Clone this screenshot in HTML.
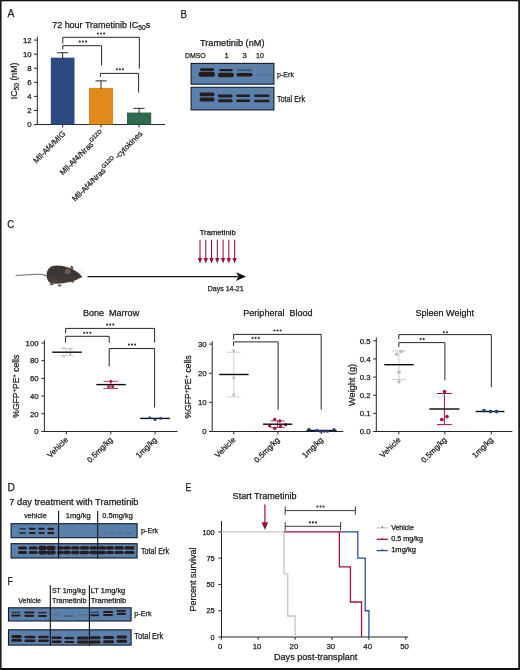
<!DOCTYPE html>
<html><head><meta charset="utf-8"><style>
html,body{margin:0;padding:0;background:#fff;}
svg{display:block;will-change:transform;}
text{font-family:"Liberation Sans", sans-serif;stroke:#1a1a1a;stroke-width:0.25px;}
</style></head><body>
<svg width="520" height="670" viewBox="0 0 520 670">
<defs><filter id="bl" x="-20%" y="-50%" width="140%" height="200%"><feGaussianBlur stdDeviation="0.55"/></filter></defs>
<rect x="0" y="0" width="520" height="670" fill="#fff"/>
<text x="7.6" y="17.4" font-size="11.4" textLength="6.9" lengthAdjust="spacingAndGlyphs" fill="#1a1a1a" >A</text>
<text x="180.6" y="17.6" font-size="11.4" textLength="6.4" lengthAdjust="spacingAndGlyphs" fill="#1a1a1a" >B</text>
<text x="7.2" y="228.3" font-size="11.4" textLength="7.0" lengthAdjust="spacingAndGlyphs" fill="#1a1a1a" >C</text>
<text x="7.4" y="490.8" font-size="11.4" textLength="7.4" lengthAdjust="spacingAndGlyphs" fill="#1a1a1a" >D</text>
<text x="185.6" y="490.9" font-size="11.4" textLength="5.7" lengthAdjust="spacingAndGlyphs" fill="#1a1a1a" >E</text>
<text x="7.4" y="585.1" font-size="11.4" textLength="5.4" lengthAdjust="spacingAndGlyphs" fill="#1a1a1a" >F</text>
<text x="52.2" y="27.8" font-size="9.2" fill="#1a1a1a" textLength="98" lengthAdjust="spacingAndGlyphs">72 hour Trametinib IC<tspan font-size="6.8" dy="1.7">50</tspan><tspan dy="-1.7">s</tspan></text>
<line x1="37.3" y1="36.7" x2="37.3" y2="125" stroke="#262626" stroke-width="1.0" />
<line x1="36.8" y1="124.5" x2="165" y2="124.5" stroke="#262626" stroke-width="1.0" />
<line x1="34" y1="124.5" x2="37.3" y2="124.5" stroke="#262626" stroke-width="1.0" />
<text x="31.6" y="127.2" font-size="7.8" text-anchor="end" fill="#1a1a1a" >0</text>
<line x1="34" y1="110.43" x2="37.3" y2="110.43" stroke="#262626" stroke-width="1.0" />
<text x="31.6" y="113.13" font-size="7.8" text-anchor="end" fill="#1a1a1a" >2</text>
<line x1="34" y1="96.36" x2="37.3" y2="96.36" stroke="#262626" stroke-width="1.0" />
<text x="31.6" y="99.06" font-size="7.8" text-anchor="end" fill="#1a1a1a" >4</text>
<line x1="34" y1="82.29" x2="37.3" y2="82.29" stroke="#262626" stroke-width="1.0" />
<text x="31.6" y="84.99" font-size="7.8" text-anchor="end" fill="#1a1a1a" >6</text>
<line x1="34" y1="68.22" x2="37.3" y2="68.22" stroke="#262626" stroke-width="1.0" />
<text x="31.6" y="70.92" font-size="7.8" text-anchor="end" fill="#1a1a1a" >8</text>
<line x1="34" y1="54.15" x2="37.3" y2="54.15" stroke="#262626" stroke-width="1.0" />
<text x="31.6" y="56.85" font-size="7.8" text-anchor="end" fill="#1a1a1a" >10</text>
<line x1="34" y1="40.08" x2="37.3" y2="40.08" stroke="#262626" stroke-width="1.0" />
<text x="31.6" y="42.78" font-size="7.8" text-anchor="end" fill="#1a1a1a" >12</text>
<text transform="translate(16.8 80.9) rotate(-90)" font-size="9.2" text-anchor="middle" fill="#1a1a1a" textLength="36.5" lengthAdjust="spacingAndGlyphs">IC<tspan font-size="7" dy="1.9">50</tspan><tspan dy="-1.9"> (nM)</tspan></text>
<rect x="50.8" y="57.67" width="23.7" height="66.83" fill="#2c4a7f" stroke="none" stroke-width="0" />
<line x1="62.65" y1="52.74" x2="62.65" y2="58.67" stroke="#262626" stroke-width="1.0" />
<line x1="57.15" y1="52.74" x2="68.15" y2="52.74" stroke="#262626" stroke-width="1.0" />
<rect x="89" y="87.92" width="24" height="36.58" fill="#e08a1c" stroke="none" stroke-width="0" />
<line x1="101" y1="80.88" x2="101" y2="88.92" stroke="#262626" stroke-width="1.0" />
<line x1="95.5" y1="80.88" x2="106.5" y2="80.88" stroke="#262626" stroke-width="1.0" />
<rect x="127" y="112.54" width="24.2" height="11.96" fill="#2e6b4e" stroke="none" stroke-width="0" />
<line x1="139.1" y1="108.32" x2="139.1" y2="113.54" stroke="#262626" stroke-width="1.0" />
<line x1="133.6" y1="108.32" x2="144.6" y2="108.32" stroke="#262626" stroke-width="1.0" />
<line x1="62.6" y1="124.5" x2="62.6" y2="127.5" stroke="#262626" stroke-width="1.0" />
<line x1="101" y1="124.5" x2="101" y2="127.5" stroke="#262626" stroke-width="1.0" />
<line x1="139" y1="124.5" x2="139" y2="127.5" stroke="#262626" stroke-width="1.0" />
<polyline points="62.8,43.5 62.8,37.3 139.3,37.3 139.3,68.7" stroke="#262626" stroke-width="1.0" fill="none" />
<polyline points="62.8,49.5 62.8,45.7 101.6,45.7 101.6,65.5" stroke="#262626" stroke-width="1.0" fill="none" />
<polyline points="100.4,76.8 100.4,73.4 138.6,73.4 138.6,92.5" stroke="#262626" stroke-width="1.0" fill="none" />
<circle cx="97.9" cy="33.5" r="1.05" fill="#2a2a2a" />
<circle cx="101" cy="33.5" r="1.05" fill="#2a2a2a" />
<circle cx="104.1" cy="33.5" r="1.05" fill="#2a2a2a" />
<circle cx="79.8" cy="41.6" r="1.05" fill="#2a2a2a" />
<circle cx="82.9" cy="41.6" r="1.05" fill="#2a2a2a" />
<circle cx="86" cy="41.6" r="1.05" fill="#2a2a2a" />
<circle cx="116.8" cy="69.3" r="1.05" fill="#2a2a2a" />
<circle cx="119.9" cy="69.3" r="1.05" fill="#2a2a2a" />
<circle cx="123" cy="69.3" r="1.05" fill="#2a2a2a" />
<text transform="translate(66 134.2) rotate(-45)" font-size="7.9" text-anchor="end" fill="#1a1a1a">Mll-Af4/MIG</text>
<text transform="translate(104.5 134.2) rotate(-45)" font-size="7.9" text-anchor="end" fill="#1a1a1a">Mll-Af4/Nras<tspan font-size="5.8" dy="-3.4">G12D</tspan></text>
<text transform="translate(143 134.2) rotate(-45)" font-size="7.9" text-anchor="end" fill="#1a1a1a">Mll-Af4/Nras<tspan font-size="5.8" dy="-3.4">G12D</tspan><tspan dy="3.4" dx="1.6">-cytokines</tspan></text>
<text x="200" y="45.8" font-size="9" textLength="64.5" lengthAdjust="spacingAndGlyphs" fill="#1a1a1a" >Trametinib (nM)</text>
<text x="185" y="58" font-size="7.6" textLength="20.7" lengthAdjust="spacingAndGlyphs" fill="#1a1a1a" >DMSO</text>
<text x="224.6" y="58" font-size="7.6" fill="#1a1a1a" >1</text>
<text x="242.6" y="58" font-size="7.6" fill="#1a1a1a" >3</text>
<text x="256" y="58" font-size="7.6" textLength="7.8" lengthAdjust="spacingAndGlyphs" fill="#1a1a1a" >10</text>
<rect x="191.1" y="63.4" width="82.8" height="20.8" fill="#5a80ac" stroke="#151a26" stroke-width="1.1" />
<rect x="200" y="68.3" width="14.1" height="2.6" rx="1.3" fill="#261c1e" opacity="1.0" filter="url(#bl)"/>
<rect x="198.5" y="71.8" width="16.5" height="5" rx="2.5" fill="#261c1e" opacity="1.0" filter="url(#bl)"/>
<rect x="219.2" y="69.05" width="13.5" height="2.3" rx="1.15" fill="#261c1e" opacity="1.0" filter="url(#bl)"/>
<rect x="217.9" y="72.65" width="16.1" height="4.5" rx="2.25" fill="#261c1e" opacity="1.0" filter="url(#bl)"/>
<rect x="237.2" y="69.3" width="14.9" height="1.6" rx="0.8" fill="#261c1e" opacity="0.45" filter="url(#bl)"/>
<rect x="236.4" y="73.1" width="16.3" height="3.4" rx="1.7" fill="#261c1e" opacity="1.0" filter="url(#bl)"/>
<rect x="257" y="73.2" width="14" height="3" rx="1.5" fill="#261c1e" opacity="0.09" filter="url(#bl)"/>
<rect x="191.1" y="87.3" width="82.8" height="22.6" fill="#5a80ac" stroke="#151a26" stroke-width="1.1" />
<rect x="199.5" y="92.5" width="15" height="3.8" rx="1.9" fill="#261c1e" opacity="1.0" filter="url(#bl)"/>
<rect x="199.5" y="97.6" width="15" height="3.8" rx="1.9" fill="#261c1e" opacity="1.0" filter="url(#bl)"/>
<rect x="217.9" y="94.55" width="14.8" height="2.9" rx="1.45" fill="#261c1e" opacity="1.0" filter="url(#bl)"/>
<rect x="217.9" y="99.25" width="14.8" height="2.9" rx="1.45" fill="#261c1e" opacity="1.0" filter="url(#bl)"/>
<rect x="236.1" y="94.5" width="14.1" height="2.6" rx="1.3" fill="#261c1e" opacity="1.0" filter="url(#bl)"/>
<rect x="236.1" y="99.5" width="14.1" height="2.6" rx="1.3" fill="#261c1e" opacity="1.0" filter="url(#bl)"/>
<rect x="254.2" y="94.5" width="15.4" height="2.4" rx="1.2" fill="#261c1e" opacity="1.0" filter="url(#bl)"/>
<rect x="254.2" y="99.8" width="15.4" height="2.4" rx="1.2" fill="#261c1e" opacity="1.0" filter="url(#bl)"/>
<text x="277" y="76.9" font-size="7.9" textLength="17" lengthAdjust="spacingAndGlyphs" fill="#1a1a1a" >p-Erk</text>
<text x="277" y="101.5" font-size="8.4" textLength="28" lengthAdjust="spacingAndGlyphs" fill="#1a1a1a" >Total Erk</text>
<g>
<defs><linearGradient id="mg" x1="0" y1="0" x2="0" y2="1"><stop offset="0" stop-color="#3a3633"/><stop offset="0.6" stop-color="#3d3834"/><stop offset="1" stop-color="#4a3e36"/></linearGradient></defs>
<path d="M16,275.5 C24,275.1 32,274.1 40,274.3 C43,274.4 45,275.2 47.6,276.2" stroke="#776a62" stroke-width="1.1" fill="none" stroke-linecap="round"/>
<path d="M82,277 C80,273.6 76.5,271 72.5,269.3 C68.5,267.4 63,265.7 57,265.6 C51,265.5 47,269 46.7,274 C46.4,278.5 48,282 51,283.4 L56,283.8 C60,284 66,283 70,282.1 C74,281.1 78,279.2 82,277 Z" fill="url(#mg)"/>
<ellipse cx="53.5" cy="279.8" rx="5.2" ry="3.6" fill="#54473f" opacity="0.35"/>
<path d="M64.6,272.5 C64.4,269.8 66,268.4 68,268.5 C70,268.7 70.8,270.6 70.3,272.8 C69.6,274.4 66.5,274.6 64.6,272.5 Z" fill="#6e5d53"/>
<ellipse cx="71.9" cy="267.9" rx="1.5" ry="2.1" fill="#6a5a50" transform="rotate(-15 71.9 267.9)"/>
<circle cx="75.3" cy="274.2" r="0.6" fill="#1c1816"/>
<circle cx="81.6" cy="277" r="0.7" fill="#8a5a60"/>
<ellipse cx="51.7" cy="284.2" rx="2" ry="1" fill="#63564f"/>
<ellipse cx="59.7" cy="285.5" rx="2" ry="1" fill="#63564f"/>
<ellipse cx="72.6" cy="281.8" rx="1.8" ry="0.9" fill="#6b5e58"/>
<path d="M79.8,271.2 L82.6,268.6 M80.4,272.6 L83.4,270.6 M80.8,273.8 L83.6,272.6" stroke="#d0d0d0" stroke-width="0.6"/>
</g>
<line x1="87.5" y1="276.6" x2="238" y2="276.6" stroke="#111" stroke-width="1.3" />
<path d="M246,276.6 L236,272.2 L238.5,276.6 L236,281 Z" fill="#111"/>
<text x="199.7" y="235.4" font-size="7.4" textLength="36" lengthAdjust="spacingAndGlyphs" fill="#1a1a1a" >Trametinib</text>
<line x1="200" y1="239.7" x2="200" y2="259" stroke="#9e0f38" stroke-width="1.05" />
<path d="M197.8,258 L202.2,258 L200,263.4 Z" fill="#9e0f38"/>
<line x1="205.77" y1="239.7" x2="205.77" y2="259" stroke="#9e0f38" stroke-width="1.05" />
<path d="M203.57,258 L207.97,258 L205.77,263.4 Z" fill="#9e0f38"/>
<line x1="211.54" y1="239.7" x2="211.54" y2="259" stroke="#9e0f38" stroke-width="1.05" />
<path d="M209.34,258 L213.74,258 L211.54,263.4 Z" fill="#9e0f38"/>
<line x1="217.31" y1="239.7" x2="217.31" y2="259" stroke="#9e0f38" stroke-width="1.05" />
<path d="M215.11,258 L219.51,258 L217.31,263.4 Z" fill="#9e0f38"/>
<line x1="223.08" y1="239.7" x2="223.08" y2="259" stroke="#9e0f38" stroke-width="1.05" />
<path d="M220.88,258 L225.28,258 L223.08,263.4 Z" fill="#9e0f38"/>
<line x1="228.85" y1="239.7" x2="228.85" y2="259" stroke="#9e0f38" stroke-width="1.05" />
<path d="M226.65,258 L231.05,258 L228.85,263.4 Z" fill="#9e0f38"/>
<line x1="234.62" y1="239.7" x2="234.62" y2="259" stroke="#9e0f38" stroke-width="1.05" />
<path d="M232.42,258 L236.82,258 L234.62,263.4 Z" fill="#9e0f38"/>
<text x="207.7" y="290.8" font-size="7.4" textLength="36" lengthAdjust="spacingAndGlyphs" fill="#1a1a1a" >Days 14-21</text>
<text x="82.9" y="316.3" font-size="9" textLength="56.3" lengthAdjust="spacingAndGlyphs" fill="#1a1a1a" >Bone&#160;&#160;Marrow</text>
<line x1="44.4" y1="340.2" x2="44.4" y2="432" stroke="#262626" stroke-width="1.0" />
<line x1="43.9" y1="431.5" x2="177.4" y2="431.5" stroke="#262626" stroke-width="1.0" />
<line x1="41.3" y1="431.5" x2="44.4" y2="431.5" stroke="#262626" stroke-width="1.0" />
<text x="38.6" y="434.2" font-size="7.8" text-anchor="end" fill="#1a1a1a" >0</text>
<line x1="41.3" y1="413.8" x2="44.4" y2="413.8" stroke="#262626" stroke-width="1.0" />
<text x="38.6" y="416.5" font-size="7.8" text-anchor="end" fill="#1a1a1a" >20</text>
<line x1="41.3" y1="396.1" x2="44.4" y2="396.1" stroke="#262626" stroke-width="1.0" />
<text x="38.6" y="398.8" font-size="7.8" text-anchor="end" fill="#1a1a1a" >40</text>
<line x1="41.3" y1="378.4" x2="44.4" y2="378.4" stroke="#262626" stroke-width="1.0" />
<text x="38.6" y="381.1" font-size="7.8" text-anchor="end" fill="#1a1a1a" >60</text>
<line x1="41.3" y1="360.7" x2="44.4" y2="360.7" stroke="#262626" stroke-width="1.0" />
<text x="38.6" y="363.4" font-size="7.8" text-anchor="end" fill="#1a1a1a" >80</text>
<line x1="41.3" y1="343" x2="44.4" y2="343" stroke="#262626" stroke-width="1.0" />
<text x="38.6" y="345.7" font-size="7.8" text-anchor="end" fill="#1a1a1a" >100</text>
<text transform="translate(19.4 386.2) rotate(-90)" font-size="9" text-anchor="middle" textLength="63" lengthAdjust="spacingAndGlyphs" fill="#1a1a1a">%GFP<tspan font-size="6.2" dy="-3.2">+</tspan><tspan dy="3.2">PE</tspan><tspan font-size="6.2" dy="-3.2">+</tspan><tspan dy="3.2"> cells</tspan></text>
<line x1="66.3" y1="431.5" x2="66.3" y2="434.3" stroke="#262626" stroke-width="1.0" />
<text transform="translate(68.6 440.3) rotate(-45)" font-size="7.9" text-anchor="end" fill="#1a1a1a">Vehicle</text>
<line x1="110.8" y1="431.5" x2="110.8" y2="434.3" stroke="#262626" stroke-width="1.0" />
<text transform="translate(113.1 440.3) rotate(-45)" font-size="7.9" text-anchor="end" fill="#1a1a1a">0.5mg/kg</text>
<line x1="155.1" y1="431.5" x2="155.1" y2="434.3" stroke="#262626" stroke-width="1.0" />
<text transform="translate(157.4 440.3) rotate(-45)" font-size="7.9" text-anchor="end" fill="#1a1a1a">1mg/kg</text>
<polyline points="65.6,333.2 65.6,328.4 154.6,328.4 154.6,342.7" stroke="#262626" stroke-width="1.0" fill="none" />
<polyline points="65.6,342.6 65.6,336.3 109.2,336.3 109.2,342.7" stroke="#262626" stroke-width="1.0" fill="none" />
<polyline points="109.2,366.3 109.2,348.5 154.6,348.5 154.6,407.5" stroke="#262626" stroke-width="1.0" fill="none" />
<circle cx="107.1" cy="324.6" r="1.05" fill="#2a2a2a" />
<circle cx="110.2" cy="324.6" r="1.05" fill="#2a2a2a" />
<circle cx="113.3" cy="324.6" r="1.05" fill="#2a2a2a" />
<circle cx="84.2" cy="332.7" r="1.05" fill="#2a2a2a" />
<circle cx="87.3" cy="332.7" r="1.05" fill="#2a2a2a" />
<circle cx="90.4" cy="332.7" r="1.05" fill="#2a2a2a" />
<circle cx="128.9" cy="344.6" r="1.05" fill="#2a2a2a" />
<circle cx="132" cy="344.6" r="1.05" fill="#2a2a2a" />
<circle cx="135.1" cy="344.6" r="1.05" fill="#2a2a2a" />
<line x1="59.5" y1="348.4" x2="73.8" y2="348.4" stroke="#c9c9cc" stroke-width="0.8" />
<line x1="59.5" y1="355.7" x2="73.8" y2="355.7" stroke="#c9c9cc" stroke-width="0.8" />
<line x1="66.6" y1="348.4" x2="66.6" y2="355.7" stroke="#c9c9cc" stroke-width="0.8" />
<circle cx="63.8" cy="348.2" r="1.2" fill="#bdbdc2" />
<circle cx="63.8" cy="356.2" r="1.2" fill="#bdbdc2" />
<circle cx="70.3" cy="349.2" r="1.2" fill="#bdbdc2" />
<circle cx="70.3" cy="354.5" r="1.2" fill="#bdbdc2" />
<line x1="52.2" y1="352.2" x2="81.8" y2="352.2" stroke="#0a0a0a" stroke-width="1.4" />
<line x1="103.5" y1="381.3" x2="118" y2="381.3" stroke="#a9133a" stroke-width="0.8" />
<line x1="103.5" y1="388.5" x2="118" y2="388.5" stroke="#a9133a" stroke-width="0.8" />
<line x1="110.8" y1="381.3" x2="110.8" y2="388.5" stroke="#a9133a" stroke-width="0.8" />
<circle cx="110.8" cy="381.4" r="1.4" fill="#a9133a" />
<circle cx="108.5" cy="386.7" r="1.4" fill="#a9133a" />
<circle cx="112.7" cy="386.7" r="1.4" fill="#a9133a" />
<line x1="96.3" y1="384.6" x2="125.8" y2="384.6" stroke="#0a0a0a" stroke-width="1.4" />
<line x1="140.2" y1="418.4" x2="169.8" y2="418.4" stroke="#0a0a0a" stroke-width="1.4" />
<circle cx="149.7" cy="417.7" r="1.5" fill="#21427c" />
<circle cx="155.1" cy="419.5" r="1.5" fill="#21427c" />
<circle cx="160.5" cy="418.3" r="1.5" fill="#21427c" />
<text x="243.3" y="316.3" font-size="9" textLength="69.3" lengthAdjust="spacingAndGlyphs" fill="#1a1a1a" >Peripheral&#160;&#160;Blood</text>
<line x1="212.2" y1="341.2" x2="212.2" y2="432" stroke="#262626" stroke-width="1.0" />
<line x1="211.7" y1="431.5" x2="343.3" y2="431.5" stroke="#262626" stroke-width="1.0" />
<line x1="209.1" y1="431.5" x2="212.2" y2="431.5" stroke="#262626" stroke-width="1.0" />
<text x="206.6" y="434.2" font-size="7.8" text-anchor="end" fill="#1a1a1a" >0</text>
<line x1="209.1" y1="402.36" x2="212.2" y2="402.36" stroke="#262626" stroke-width="1.0" />
<text x="206.6" y="405.06" font-size="7.8" text-anchor="end" fill="#1a1a1a" >10</text>
<line x1="209.1" y1="373.22" x2="212.2" y2="373.22" stroke="#262626" stroke-width="1.0" />
<text x="206.6" y="375.92" font-size="7.8" text-anchor="end" fill="#1a1a1a" >20</text>
<line x1="209.1" y1="344.08" x2="212.2" y2="344.08" stroke="#262626" stroke-width="1.0" />
<text x="206.6" y="346.78" font-size="7.8" text-anchor="end" fill="#1a1a1a" >30</text>
<text transform="translate(191.4 387) rotate(-90)" font-size="9" text-anchor="middle" textLength="63" lengthAdjust="spacingAndGlyphs" fill="#1a1a1a">%GFP<tspan font-size="6.2" dy="-3.2">+</tspan><tspan dy="3.2">PE</tspan><tspan font-size="6.2" dy="-3.2">+</tspan><tspan dy="3.2"> cells</tspan></text>
<line x1="233.7" y1="431.5" x2="233.7" y2="434.3" stroke="#262626" stroke-width="1.0" />
<text transform="translate(236 440.3) rotate(-45)" font-size="7.9" text-anchor="end" fill="#1a1a1a">Vehicle</text>
<line x1="277.9" y1="431.5" x2="277.9" y2="434.3" stroke="#262626" stroke-width="1.0" />
<text transform="translate(280.2 440.3) rotate(-45)" font-size="7.9" text-anchor="end" fill="#1a1a1a">0.5mg/kg</text>
<line x1="321.3" y1="431.5" x2="321.3" y2="434.3" stroke="#262626" stroke-width="1.0" />
<text transform="translate(323.6 440.3) rotate(-45)" font-size="7.9" text-anchor="end" fill="#1a1a1a">1mg/kg</text>
<polyline points="233.6,339.4 233.6,334.4 321.2,334.4 321.2,409.7" stroke="#262626" stroke-width="1.0" fill="none" />
<polyline points="233.6,345.9 233.6,341.9 278.1,341.9 278.1,409.7" stroke="#262626" stroke-width="1.0" fill="none" />
<circle cx="274.4" cy="330.5" r="1.05" fill="#2a2a2a" />
<circle cx="277.5" cy="330.5" r="1.05" fill="#2a2a2a" />
<circle cx="280.6" cy="330.5" r="1.05" fill="#2a2a2a" />
<circle cx="252.5" cy="338" r="1.05" fill="#2a2a2a" />
<circle cx="255.6" cy="338" r="1.05" fill="#2a2a2a" />
<circle cx="258.7" cy="338" r="1.05" fill="#2a2a2a" />
<line x1="233.7" y1="350.4" x2="233.7" y2="396.9" stroke="#d6d6da" stroke-width="1.2" />
<line x1="226.5" y1="352.3" x2="240.6" y2="352.3" stroke="#d6d6da" stroke-width="1.1" />
<line x1="226.5" y1="396.9" x2="240.6" y2="396.9" stroke="#d6d6da" stroke-width="1.1" />
<circle cx="233.7" cy="350.6" r="1.5" fill="#bdbdc2" />
<circle cx="233.7" cy="377.8" r="1.5" fill="#bdbdc2" />
<circle cx="233.7" cy="394.8" r="1.5" fill="#bdbdc2" />
<line x1="219.2" y1="374.5" x2="248.6" y2="374.5" stroke="#0a0a0a" stroke-width="1.4" />
<line x1="270.5" y1="420.9" x2="284.8" y2="420.9" stroke="#a9133a" stroke-width="0.8" />
<line x1="270.5" y1="427.6" x2="284.8" y2="427.6" stroke="#a9133a" stroke-width="0.8" />
<line x1="277.6" y1="420.9" x2="277.6" y2="427.6" stroke="#a9133a" stroke-width="0.8" />
<circle cx="274.7" cy="419.4" r="1.65" fill="#a9133a" />
<circle cx="279.8" cy="421" r="1.65" fill="#a9133a" />
<circle cx="269.7" cy="425.9" r="1.65" fill="#a9133a" />
<circle cx="274.7" cy="428.4" r="1.65" fill="#a9133a" />
<circle cx="280.6" cy="426.4" r="1.65" fill="#a9133a" />
<circle cx="285.6" cy="424.7" r="1.65" fill="#a9133a" />
<line x1="263" y1="424.2" x2="292.3" y2="424.2" stroke="#0a0a0a" stroke-width="1.4" />
<line x1="306.5" y1="430.5" x2="336.6" y2="430.5" stroke="#0a0a0a" stroke-width="1.4" />
<circle cx="309" cy="429.3" r="1.55" fill="#21427c" />
<circle cx="317" cy="430.3" r="1.55" fill="#21427c" />
<circle cx="320.5" cy="431.2" r="1.55" fill="#21427c" />
<circle cx="324" cy="431.2" r="1.55" fill="#21427c" />
<circle cx="327.5" cy="431.2" r="1.55" fill="#21427c" />
<circle cx="334" cy="429.5" r="1.55" fill="#21427c" />
<text x="415.5" y="316.3" font-size="9" textLength="58.5" lengthAdjust="spacingAndGlyphs" fill="#1a1a1a" >Spleen Weight</text>
<line x1="376.3" y1="337.4" x2="376.3" y2="432" stroke="#262626" stroke-width="1.0" />
<line x1="375.8" y1="431.5" x2="512.4" y2="431.5" stroke="#262626" stroke-width="1.0" />
<line x1="373.2" y1="431.5" x2="376.3" y2="431.5" stroke="#262626" stroke-width="1.0" />
<text x="370.6" y="434.2" font-size="7.8" text-anchor="end" fill="#1a1a1a" >0.0</text>
<line x1="373.2" y1="413.36" x2="376.3" y2="413.36" stroke="#262626" stroke-width="1.0" />
<text x="370.6" y="416.06" font-size="7.8" text-anchor="end" fill="#1a1a1a" >0.1</text>
<line x1="373.2" y1="395.22" x2="376.3" y2="395.22" stroke="#262626" stroke-width="1.0" />
<text x="370.6" y="397.92" font-size="7.8" text-anchor="end" fill="#1a1a1a" >0.2</text>
<line x1="373.2" y1="377.08" x2="376.3" y2="377.08" stroke="#262626" stroke-width="1.0" />
<text x="370.6" y="379.78" font-size="7.8" text-anchor="end" fill="#1a1a1a" >0.3</text>
<line x1="373.2" y1="358.94" x2="376.3" y2="358.94" stroke="#262626" stroke-width="1.0" />
<text x="370.6" y="361.64" font-size="7.8" text-anchor="end" fill="#1a1a1a" >0.4</text>
<line x1="373.2" y1="340.8" x2="376.3" y2="340.8" stroke="#262626" stroke-width="1.0" />
<text x="370.6" y="343.5" font-size="7.8" text-anchor="end" fill="#1a1a1a" >0.5</text>
<text transform="translate(354.6 384.9) rotate(-90)" font-size="9" text-anchor="middle" textLength="42" lengthAdjust="spacingAndGlyphs" fill="#1a1a1a">Weight (g)</text>
<line x1="398.8" y1="431.5" x2="398.8" y2="434.3" stroke="#262626" stroke-width="1.0" />
<text transform="translate(401.1 440.3) rotate(-45)" font-size="7.9" text-anchor="end" fill="#1a1a1a">Vehicle</text>
<line x1="444.9" y1="431.5" x2="444.9" y2="434.3" stroke="#262626" stroke-width="1.0" />
<text transform="translate(447.2 440.3) rotate(-45)" font-size="7.9" text-anchor="end" fill="#1a1a1a">0.5mg/kg</text>
<line x1="491.3" y1="431.5" x2="491.3" y2="434.3" stroke="#262626" stroke-width="1.0" />
<text transform="translate(493.6 440.3) rotate(-45)" font-size="7.9" text-anchor="end" fill="#1a1a1a">1mg/kg</text>
<polyline points="398.8,339.2 398.8,334.6 491.3,334.6 491.3,387.2" stroke="#262626" stroke-width="1.0" fill="none" />
<polyline points="398.8,347 398.8,342.6 444.9,342.6 444.9,380.3" stroke="#262626" stroke-width="1.0" fill="none" />
<circle cx="443.85" cy="332.2" r="1.05" fill="#2a2a2a" />
<circle cx="446.95" cy="332.2" r="1.05" fill="#2a2a2a" />
<circle cx="420.65" cy="339.1" r="1.05" fill="#2a2a2a" />
<circle cx="423.75" cy="339.1" r="1.05" fill="#2a2a2a" />
<line x1="392" y1="350.9" x2="405.8" y2="350.9" stroke="#c9c9cc" stroke-width="1" />
<line x1="392" y1="379.6" x2="405.8" y2="379.6" stroke="#c9c9cc" stroke-width="1" />
<line x1="398.9" y1="350.9" x2="398.9" y2="379.6" stroke="#c9c9cc" stroke-width="1" />
<circle cx="396.5" cy="354.2" r="1.75" fill="#bdbdc2" />
<circle cx="401.5" cy="351.5" r="1.75" fill="#bdbdc2" />
<circle cx="399" cy="372.2" r="1.75" fill="#bdbdc2" />
<circle cx="399" cy="381.8" r="1.75" fill="#bdbdc2" />
<line x1="384.3" y1="364.7" x2="413.7" y2="364.7" stroke="#0a0a0a" stroke-width="1.4" />
<line x1="437" y1="393.5" x2="451.8" y2="393.5" stroke="#a9133a" stroke-width="1" />
<line x1="437" y1="424.6" x2="451.8" y2="424.6" stroke="#a9133a" stroke-width="1" />
<line x1="444.4" y1="393.5" x2="444.4" y2="424.6" stroke="#a9133a" stroke-width="1" />
<circle cx="444.5" cy="391.5" r="1.85" fill="#a9133a" />
<circle cx="441.8" cy="419.5" r="1.85" fill="#a9133a" />
<circle cx="447" cy="416.6" r="1.85" fill="#a9133a" />
<line x1="429.3" y1="409" x2="459.4" y2="409" stroke="#0a0a0a" stroke-width="1.4" />
<line x1="475.7" y1="411.5" x2="504.4" y2="411.5" stroke="#0a0a0a" stroke-width="1.4" />
<circle cx="484" cy="410.6" r="1.8" fill="#21427c" />
<circle cx="490.5" cy="411.6" r="1.8" fill="#21427c" />
<circle cx="496.5" cy="411.6" r="1.8" fill="#21427c" />
<text x="9.3" y="504.7" font-size="9" textLength="129.2" lengthAdjust="spacingAndGlyphs" fill="#1a1a1a" >7 day treatment with Trametinib</text>
<text x="24.2" y="518.4" font-size="7.6" textLength="22.5" lengthAdjust="spacingAndGlyphs" fill="#1a1a1a" >vehicle</text>
<text x="65.8" y="518.4" font-size="7.6" textLength="24.9" lengthAdjust="spacingAndGlyphs" fill="#1a1a1a" >1mg/kg</text>
<text x="102.2" y="518.4" font-size="7.6" textLength="30.6" lengthAdjust="spacingAndGlyphs" fill="#1a1a1a" >0.5mg/kg</text>
<rect x="11.1" y="523.7" width="126" height="14" fill="#5a80ac" stroke="#151a26" stroke-width="1.1" />
<rect x="11.1" y="543.7" width="126" height="14.3" fill="#5a80ac" stroke="#151a26" stroke-width="1.1" />
<rect x="19.3" y="528.1" width="6.7" height="1.4" rx="0.7" fill="#261c1e" opacity="0.75" filter="url(#bl)"/>
<rect x="19.3" y="532.25" width="6.7" height="1.5" rx="0.75" fill="#261c1e" opacity="1.0" filter="url(#bl)"/>
<rect x="28.9" y="527.8" width="6.8" height="2" rx="1" fill="#261c1e" opacity="1" filter="url(#bl)"/>
<rect x="28.9" y="532" width="6.8" height="2" rx="1" fill="#261c1e" opacity="1.0" filter="url(#bl)"/>
<rect x="38.3" y="527.8" width="6.4" height="2" rx="1" fill="#261c1e" opacity="1" filter="url(#bl)"/>
<rect x="38.3" y="531.9" width="6.4" height="2.2" rx="1.1" fill="#261c1e" opacity="1.0" filter="url(#bl)"/>
<rect x="47.3" y="527.7" width="6.8" height="2.2" rx="1.1" fill="#261c1e" opacity="1" filter="url(#bl)"/>
<rect x="47.3" y="531.75" width="6.8" height="2.5" rx="1.25" fill="#261c1e" opacity="1.0" filter="url(#bl)"/>
<rect x="102" y="532" width="6" height="2.4" rx="1.2" fill="#261c1e" opacity="0.13" filter="url(#bl)"/>
<rect x="110" y="532" width="6" height="2.4" rx="1.2" fill="#261c1e" opacity="0.13" filter="url(#bl)"/>
<rect x="118" y="532" width="6" height="2.4" rx="1.2" fill="#261c1e" opacity="0.13" filter="url(#bl)"/>
<rect x="126" y="532" width="7" height="2.4" rx="1.2" fill="#261c1e" opacity="0.13" filter="url(#bl)"/>
<rect x="18" y="546.4" width="9" height="3" rx="1.5" fill="#261c1e" opacity="1.0" filter="url(#bl)"/>
<rect x="18" y="551" width="9" height="3" rx="1.5" fill="#261c1e" opacity="1.0" filter="url(#bl)"/>
<rect x="28.6" y="546.4" width="9" height="3" rx="1.5" fill="#261c1e" opacity="1.0" filter="url(#bl)"/>
<rect x="28.6" y="551" width="9" height="3" rx="1.5" fill="#261c1e" opacity="1.0" filter="url(#bl)"/>
<rect x="38.3" y="545.8" width="8.6" height="4.2" rx="2.1" fill="#261c1e" opacity="1.0" filter="url(#bl)"/>
<rect x="38.3" y="550.4" width="8.6" height="4.2" rx="2.1" fill="#261c1e" opacity="1.0" filter="url(#bl)"/>
<rect x="46.5" y="545.8" width="9.2" height="4.2" rx="2.1" fill="#261c1e" opacity="1.0" filter="url(#bl)"/>
<rect x="46.5" y="550.4" width="9.2" height="4.2" rx="2.1" fill="#261c1e" opacity="1.0" filter="url(#bl)"/>
<rect x="57" y="546.2" width="6.5" height="3.4" rx="1.7" fill="#261c1e" opacity="1.0" filter="url(#bl)"/>
<rect x="57" y="550.8" width="6.5" height="3.4" rx="1.7" fill="#261c1e" opacity="1.0" filter="url(#bl)"/>
<rect x="63" y="546.2" width="7.8" height="3.4" rx="1.7" fill="#261c1e" opacity="1.0" filter="url(#bl)"/>
<rect x="63" y="550.8" width="7.8" height="3.4" rx="1.7" fill="#261c1e" opacity="1.0" filter="url(#bl)"/>
<rect x="71" y="546.2" width="8.6" height="3.4" rx="1.7" fill="#261c1e" opacity="1.0" filter="url(#bl)"/>
<rect x="71" y="550.8" width="8.6" height="3.4" rx="1.7" fill="#261c1e" opacity="1.0" filter="url(#bl)"/>
<rect x="79.8" y="546.2" width="9.4" height="3.4" rx="1.7" fill="#261c1e" opacity="1.0" filter="url(#bl)"/>
<rect x="79.8" y="550.8" width="9.4" height="3.4" rx="1.7" fill="#261c1e" opacity="1.0" filter="url(#bl)"/>
<rect x="89.4" y="546.2" width="8" height="3.4" rx="1.7" fill="#261c1e" opacity="1.0" filter="url(#bl)"/>
<rect x="89.4" y="550.8" width="8" height="3.4" rx="1.7" fill="#261c1e" opacity="1.0" filter="url(#bl)"/>
<rect x="97.9" y="546.2" width="8.1" height="3.4" rx="1.7" fill="#261c1e" opacity="1.0" filter="url(#bl)"/>
<rect x="97.9" y="550.8" width="8.1" height="3.4" rx="1.7" fill="#261c1e" opacity="1.0" filter="url(#bl)"/>
<rect x="106" y="546.3" width="8" height="3.2" rx="1.6" fill="#261c1e" opacity="1.0" filter="url(#bl)"/>
<rect x="106" y="550.9" width="8" height="3.2" rx="1.6" fill="#261c1e" opacity="1.0" filter="url(#bl)"/>
<rect x="114.5" y="546.3" width="9.5" height="3.2" rx="1.6" fill="#261c1e" opacity="1.0" filter="url(#bl)"/>
<rect x="114.5" y="550.9" width="9.5" height="3.2" rx="1.6" fill="#261c1e" opacity="1.0" filter="url(#bl)"/>
<rect x="124.5" y="546.3" width="10" height="3.2" rx="1.6" fill="#261c1e" opacity="1.0" filter="url(#bl)"/>
<rect x="124.5" y="550.9" width="10" height="3.2" rx="1.6" fill="#261c1e" opacity="1.0" filter="url(#bl)"/>
<line x1="58.6" y1="510.8" x2="58.6" y2="558.3" stroke="#111" stroke-width="1.1" />
<line x1="97.7" y1="511" x2="97.7" y2="558.6" stroke="#111" stroke-width="1.1" />
<text x="141" y="533.2" font-size="7.8" textLength="17.2" lengthAdjust="spacingAndGlyphs" fill="#1a1a1a" >p-Erk</text>
<text x="141" y="553.6" font-size="8.4" textLength="28" lengthAdjust="spacingAndGlyphs" fill="#1a1a1a" >Total Erk</text>
<text x="18.2" y="602.5" font-size="7.6" textLength="22.8" lengthAdjust="spacingAndGlyphs" fill="#1a1a1a" >Vehicle</text>
<text x="51.9" y="593" font-size="7.6" textLength="33.8" lengthAdjust="spacingAndGlyphs" fill="#1a1a1a" >ST 1mg/kg</text>
<text x="51.9" y="602.5" font-size="7.6" textLength="34.6" lengthAdjust="spacingAndGlyphs" fill="#1a1a1a" >Trametinib</text>
<text x="90.7" y="593" font-size="7.6" textLength="34.6" lengthAdjust="spacingAndGlyphs" fill="#1a1a1a" >LT 1mg/kg</text>
<text x="90.7" y="602.5" font-size="7.6" textLength="35.6" lengthAdjust="spacingAndGlyphs" fill="#1a1a1a" >Trametinib</text>
<rect x="8.5" y="607.8" width="122.6" height="13.2" fill="#5a80ac" stroke="#151a26" stroke-width="1.1" />
<rect x="8.5" y="629.8" width="122.6" height="15.3" fill="#5a80ac" stroke="#151a26" stroke-width="1.1" />
<rect x="11.3" y="611.65" width="9.3" height="1.5" rx="0.75" fill="#261c1e" opacity="0.7" filter="url(#bl)"/>
<rect x="11.3" y="614.5" width="9.3" height="2" rx="1" fill="#261c1e" opacity="1.0" filter="url(#bl)"/>
<rect x="24.4" y="611.4" width="10" height="2" rx="1" fill="#261c1e" opacity="1" filter="url(#bl)"/>
<rect x="24.4" y="614.7" width="10" height="2.2" rx="1.1" fill="#261c1e" opacity="1.0" filter="url(#bl)"/>
<rect x="38.1" y="611.8" width="8.8" height="1.6" rx="0.8" fill="#261c1e" opacity="0.8" filter="url(#bl)"/>
<rect x="38.1" y="615" width="8.8" height="2" rx="1" fill="#261c1e" opacity="1.0" filter="url(#bl)"/>
<rect x="90.3" y="611.75" width="8.9" height="1.3" rx="0.65" fill="#261c1e" opacity="0.6" filter="url(#bl)"/>
<rect x="90.3" y="614.3" width="8.9" height="2" rx="1" fill="#261c1e" opacity="1.0" filter="url(#bl)"/>
<rect x="103" y="610.9" width="10.1" height="2" rx="1" fill="#261c1e" opacity="1" filter="url(#bl)"/>
<rect x="103" y="613.9" width="10.1" height="2.2" rx="1.1" fill="#261c1e" opacity="1.0" filter="url(#bl)"/>
<rect x="116.5" y="610" width="9.5" height="1.8" rx="0.9" fill="#261c1e" opacity="1" filter="url(#bl)"/>
<rect x="116.5" y="612.8" width="9.5" height="2.2" rx="1.1" fill="#261c1e" opacity="1.0" filter="url(#bl)"/>
<rect x="53" y="613.8" width="7" height="1.6" rx="0.8" fill="#261c1e" opacity="0.15" filter="url(#bl)"/>
<rect x="64.3" y="615.3" width="9.4" height="1.8" rx="0.9" fill="#261c1e" opacity="0.3" filter="url(#bl)"/>
<rect x="77.3" y="614.05" width="9.4" height="1.5" rx="0.75" fill="#261c1e" opacity="0.15" filter="url(#bl)"/>
<rect x="11.3" y="635" width="10.6" height="3" rx="1.5" fill="#261c1e" opacity="1.0" filter="url(#bl)"/>
<rect x="11.3" y="638.8" width="10.6" height="3" rx="1.5" fill="#261c1e" opacity="1.0" filter="url(#bl)"/>
<rect x="24.4" y="635.7" width="11.2" height="2.6" rx="1.3" fill="#261c1e" opacity="1.0" filter="url(#bl)"/>
<rect x="24.4" y="639.5" width="11.2" height="2.6" rx="1.3" fill="#261c1e" opacity="1.0" filter="url(#bl)"/>
<rect x="38.1" y="635.7" width="10.7" height="2.6" rx="1.3" fill="#261c1e" opacity="1.0" filter="url(#bl)"/>
<rect x="38.1" y="639.5" width="10.7" height="2.6" rx="1.3" fill="#261c1e" opacity="1.0" filter="url(#bl)"/>
<rect x="51.5" y="636.5" width="10.4" height="2.6" rx="1.3" fill="#261c1e" opacity="1.0" filter="url(#bl)"/>
<rect x="51.5" y="640.5" width="10.4" height="2.6" rx="1.3" fill="#261c1e" opacity="1.0" filter="url(#bl)"/>
<rect x="64.3" y="637" width="10.1" height="2.2" rx="1.1" fill="#261c1e" opacity="1.0" filter="url(#bl)"/>
<rect x="64.3" y="640.9" width="10.1" height="2.2" rx="1.1" fill="#261c1e" opacity="1.0" filter="url(#bl)"/>
<rect x="77" y="636.4" width="11.8" height="3" rx="1.5" fill="#261c1e" opacity="1.0" filter="url(#bl)"/>
<rect x="77" y="640.4" width="11.8" height="3" rx="1.5" fill="#261c1e" opacity="1.0" filter="url(#bl)"/>
<rect x="89.6" y="636.2" width="11.1" height="3" rx="1.5" fill="#261c1e" opacity="1.0" filter="url(#bl)"/>
<rect x="89.6" y="640.4" width="11.1" height="3" rx="1.5" fill="#261c1e" opacity="1.0" filter="url(#bl)"/>
<rect x="103" y="636.1" width="11.1" height="3" rx="1.5" fill="#261c1e" opacity="1.0" filter="url(#bl)"/>
<rect x="103" y="640.2" width="11.1" height="3" rx="1.5" fill="#261c1e" opacity="1.0" filter="url(#bl)"/>
<rect x="116.5" y="635.4" width="10.6" height="3" rx="1.5" fill="#261c1e" opacity="1.0" filter="url(#bl)"/>
<rect x="116.5" y="639.7" width="10.6" height="3" rx="1.5" fill="#261c1e" opacity="1.0" filter="url(#bl)"/>
<line x1="50.3" y1="585.2" x2="50.3" y2="645.6" stroke="#111" stroke-width="1.1" />
<line x1="89.4" y1="585.2" x2="89.4" y2="645.6" stroke="#111" stroke-width="1.1" />
<text x="134.3" y="616" font-size="7.8" textLength="17.3" lengthAdjust="spacingAndGlyphs" fill="#1a1a1a" >p-Erk</text>
<text x="134.3" y="639.3" font-size="8.4" textLength="29" lengthAdjust="spacingAndGlyphs" fill="#1a1a1a" >Total Erk</text>
<text x="232.6" y="499.2" font-size="9" textLength="63.9" lengthAdjust="spacingAndGlyphs" fill="#1a1a1a" >Start Trametinib</text>
<line x1="264.9" y1="504.5" x2="264.9" y2="524" stroke="#9e0f38" stroke-width="1.2" />
<path d="M261.6,522.3 L268.2,522.3 L264.9,529.9 Z" fill="#9e0f38"/>
<line x1="221.5" y1="521" x2="221.5" y2="637.5" stroke="#262626" stroke-width="1.0" />
<line x1="221" y1="637" x2="408.2" y2="637" stroke="#262626" stroke-width="1.0" />
<line x1="218.3" y1="637" x2="221.5" y2="637" stroke="#262626" stroke-width="1.0" />
<text x="214.6" y="639.6" font-size="7.3" text-anchor="end" fill="#1a1a1a" >0</text>
<line x1="218.3" y1="610.73" x2="221.5" y2="610.73" stroke="#262626" stroke-width="1.0" />
<text x="214.6" y="613.33" font-size="7.3" text-anchor="end" fill="#1a1a1a" >25</text>
<line x1="218.3" y1="584.45" x2="221.5" y2="584.45" stroke="#262626" stroke-width="1.0" />
<text x="214.6" y="587.05" font-size="7.3" text-anchor="end" fill="#1a1a1a" >50</text>
<line x1="218.3" y1="558.17" x2="221.5" y2="558.17" stroke="#262626" stroke-width="1.0" />
<text x="214.6" y="560.77" font-size="7.3" text-anchor="end" fill="#1a1a1a" >75</text>
<line x1="218.3" y1="531.9" x2="221.5" y2="531.9" stroke="#262626" stroke-width="1.0" />
<text x="214.6" y="534.5" font-size="7.3" text-anchor="end" fill="#1a1a1a" >100</text>
<line x1="221.3" y1="637" x2="221.3" y2="639.8" stroke="#262626" stroke-width="1.0" />
<text x="220.1" y="649.3" font-size="7.8" text-anchor="middle" fill="#1a1a1a" >0</text>
<line x1="258.2" y1="637" x2="258.2" y2="639.8" stroke="#262626" stroke-width="1.0" />
<text x="257" y="649.3" font-size="7.8" text-anchor="middle" fill="#1a1a1a" >10</text>
<line x1="295.1" y1="637" x2="295.1" y2="639.8" stroke="#262626" stroke-width="1.0" />
<text x="293.9" y="649.3" font-size="7.8" text-anchor="middle" fill="#1a1a1a" >20</text>
<line x1="332" y1="637" x2="332" y2="639.8" stroke="#262626" stroke-width="1.0" />
<text x="330.8" y="649.3" font-size="7.8" text-anchor="middle" fill="#1a1a1a" >30</text>
<line x1="368.9" y1="637" x2="368.9" y2="639.8" stroke="#262626" stroke-width="1.0" />
<text x="367.7" y="649.3" font-size="7.8" text-anchor="middle" fill="#1a1a1a" >40</text>
<line x1="405.8" y1="637" x2="405.8" y2="639.8" stroke="#262626" stroke-width="1.0" />
<text x="404.6" y="649.3" font-size="7.8" text-anchor="middle" fill="#1a1a1a" >50</text>
<text x="274" y="660.1" font-size="8.8" textLength="83.4" lengthAdjust="spacingAndGlyphs" fill="#1a1a1a" >Days post-transplant</text>
<text transform="translate(195.5 579.4) rotate(-90)" font-size="8.6" text-anchor="middle" textLength="64" lengthAdjust="spacingAndGlyphs" fill="#1a1a1a">Percent survival</text>
<polyline points="221.3,531.9 284.03,531.9 284.03,573.94 287.72,573.94 287.72,615.98 295.1,615.98 295.1,637" stroke="#c6c6c8" stroke-width="1.3" fill="none" />
<polyline points="339.38,531.9 357.83,531.9 357.83,558.17 365.21,558.17 365.21,610.73 368.9,610.73 368.9,637" stroke="#2a4f8e" stroke-width="1.3" fill="none" />
<polyline points="284.03,531.9 339.38,531.9 339.38,566.9 350.45,566.9 350.45,602 361.52,602 361.52,637" stroke="#a8123b" stroke-width="1.3" fill="none" />
<line x1="285.2" y1="510.6" x2="355.4" y2="510.6" stroke="#262626" stroke-width="0.9" />
<line x1="285.2" y1="506.4" x2="285.2" y2="514.8" stroke="#262626" stroke-width="0.9" />
<line x1="355.4" y1="506.4" x2="355.4" y2="514.8" stroke="#262626" stroke-width="0.9" />
<line x1="285.2" y1="526.3" x2="340.6" y2="526.3" stroke="#262626" stroke-width="0.9" />
<line x1="285.2" y1="522.1" x2="285.2" y2="530.5" stroke="#262626" stroke-width="0.9" />
<line x1="340.6" y1="522.1" x2="340.6" y2="530.5" stroke="#262626" stroke-width="0.9" />
<circle cx="317.4" cy="506.6" r="1.05" fill="#2a2a2a" />
<circle cx="320.5" cy="506.6" r="1.05" fill="#2a2a2a" />
<circle cx="323.6" cy="506.6" r="1.05" fill="#2a2a2a" />
<circle cx="309.9" cy="522.4" r="1.05" fill="#2a2a2a" />
<circle cx="313" cy="522.4" r="1.05" fill="#2a2a2a" />
<circle cx="316.1" cy="522.4" r="1.05" fill="#2a2a2a" />
<line x1="376.8" y1="527.9" x2="387.9" y2="527.9" stroke="#c6c6c8" stroke-width="1.3" />
<line x1="382.3" y1="526.1" x2="382.3" y2="527.9" stroke="#222" stroke-width="0.7" />
<text x="391.2" y="529.6" font-size="6.6" textLength="22.6" lengthAdjust="spacingAndGlyphs" fill="#1a1a1a" >Vehicle</text>
<line x1="376.8" y1="539.3" x2="387.9" y2="539.3" stroke="#a8123b" stroke-width="1.3" />
<line x1="382.3" y1="537.5" x2="382.3" y2="539.3" stroke="#222" stroke-width="0.7" />
<text x="391.2" y="541" font-size="6.6" textLength="31.8" lengthAdjust="spacingAndGlyphs" fill="#1a1a1a" >0.5 mg/kg</text>
<line x1="376.8" y1="550.6" x2="387.9" y2="550.6" stroke="#2a4f8e" stroke-width="1.3" />
<line x1="382.3" y1="548.8" x2="382.3" y2="550.6" stroke="#222" stroke-width="0.7" />
<text x="391.2" y="552.3" font-size="6.6" textLength="24.7" lengthAdjust="spacingAndGlyphs" fill="#1a1a1a" >1mg/kg</text>
<rect x="0" y="0" width="520" height="1.3" fill="#111"/>
<rect x="0" y="0" width="1.6" height="670" fill="#1e1e1e"/>
<rect x="518.2" y="0" width="1.8" height="670" fill="#1e1e1e"/>
<rect x="0" y="668" width="520" height="2" fill="#111"/>
</svg></body></html>
